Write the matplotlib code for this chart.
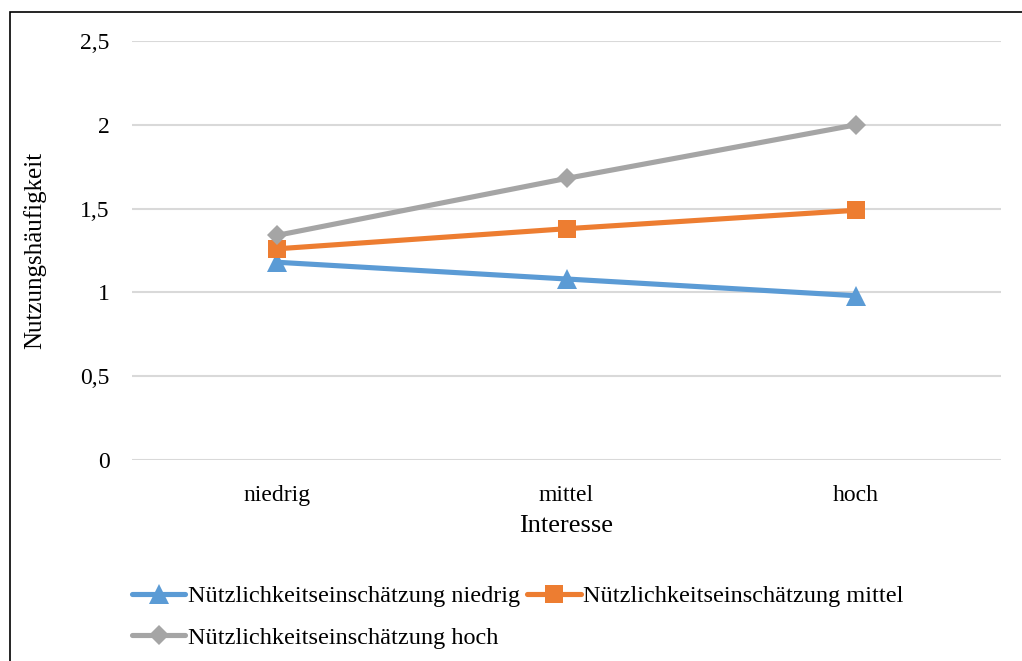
import matplotlib
matplotlib.use("Agg")
import matplotlib.pyplot as plt
from matplotlib.patches import Rectangle

# Data
categories = ["niedrig", "mittel", "hoch"]
nutzen_niedrig = [1.18, 1.08, 0.98]
nutzen_mittel = [1.26, 1.38, 1.49]
nutzen_hoch = [1.34, 1.68, 2.00]
y_ticks = [0, 0.5, 1, 1.5, 2, 2.5]
y_tick_labels = ["0", "0,5", "1", "1,5", "2", "2,5"]

plt.rcParams["font.family"] = ["Liberation Serif", "DejaVu Serif"]

W, H = 1022, 661
fig = plt.figure(figsize=(W / 100, H / 100), dpi=100)
ax = fig.add_axes([132 / W, 1 - 460 / H, (1001 - 132) / W, (460 - 41) / H])

x = list(range(len(categories)))
series = [
    (nutzen_niedrig, "#5B9BD5", "^", 14, "Nützlichkeitseinschätzung niedrig"),
    (nutzen_mittel, "#ED7D31", "s", 13.5, "Nützlichkeitseinschätzung mittel"),
    (nutzen_hoch, "#A5A5A5", "D", 9.8, "Nützlichkeitseinschätzung hoch"),
]
lines = {}
for vals, col, mk, ms, lab in series:
    (ln,) = ax.plot(x, vals, color=col, lw=3.7, marker=mk, markersize=ms,
                    markerfacecolor=col, markeredgecolor=col, markeredgewidth=0,
                    label=lab, zorder=3, solid_capstyle="round")
    lines[lab] = ln

ax.set_xlim(-0.5, 2.5)
ax.set_ylim(0, 2.5)
ax.set_yticks(y_ticks)
ax.set_yticklabels(y_tick_labels)
ax.set_xticks(x)
ax.set_xticklabels(categories)
ax.tick_params(axis="both", length=0, labelsize=17, colors="black")
ax.tick_params(axis="y", pad=16)
ax.tick_params(axis="x", pad=18)
ax.grid(axis="y", color="#D9D9D9", lw=1.5, zorder=0)
ax.set_axisbelow(True)
for sp in ax.spines.values():
    sp.set_visible(False)

ax.set_xlabel("Interesse", fontsize=19, color="black")
ax.xaxis.set_label_coords(0.5, (460 - 526) / 419)
ax.xaxis.label.set_va("center")
ax.set_ylabel("Nutzungshäufigkeit", fontsize=18, color="black")
ax.yaxis.set_label_coords((35 - 132) / 869, 0.5)
ax.yaxis.label.set_va("center")
ax.yaxis.label.set_rotation_mode("anchor")

labels = [s[4] for s in series]
order = [labels[0], labels[2], labels[1]]
fig.legend([lines[l] for l in order], order, loc="center left",
           bbox_to_anchor=(132 / W, 1 - 617 / H), ncol=2, frameon=False,
           fontsize=17.5, handlelength=2.2, handletextpad=0.1,
           columnspacing=0.3, labelspacing=0.82, borderpad=0,
           borderaxespad=0)

# Outer frame of the chart area
fig.patches.append(Rectangle((9.5 / W, -0.1), 1.2, 1 - 12.5 / H + 0.1,
                             transform=fig.transFigure, fill=False,
                             edgecolor="black", lw=1.2, zorder=10))

fig.savefig("out.png", dpi=100)
